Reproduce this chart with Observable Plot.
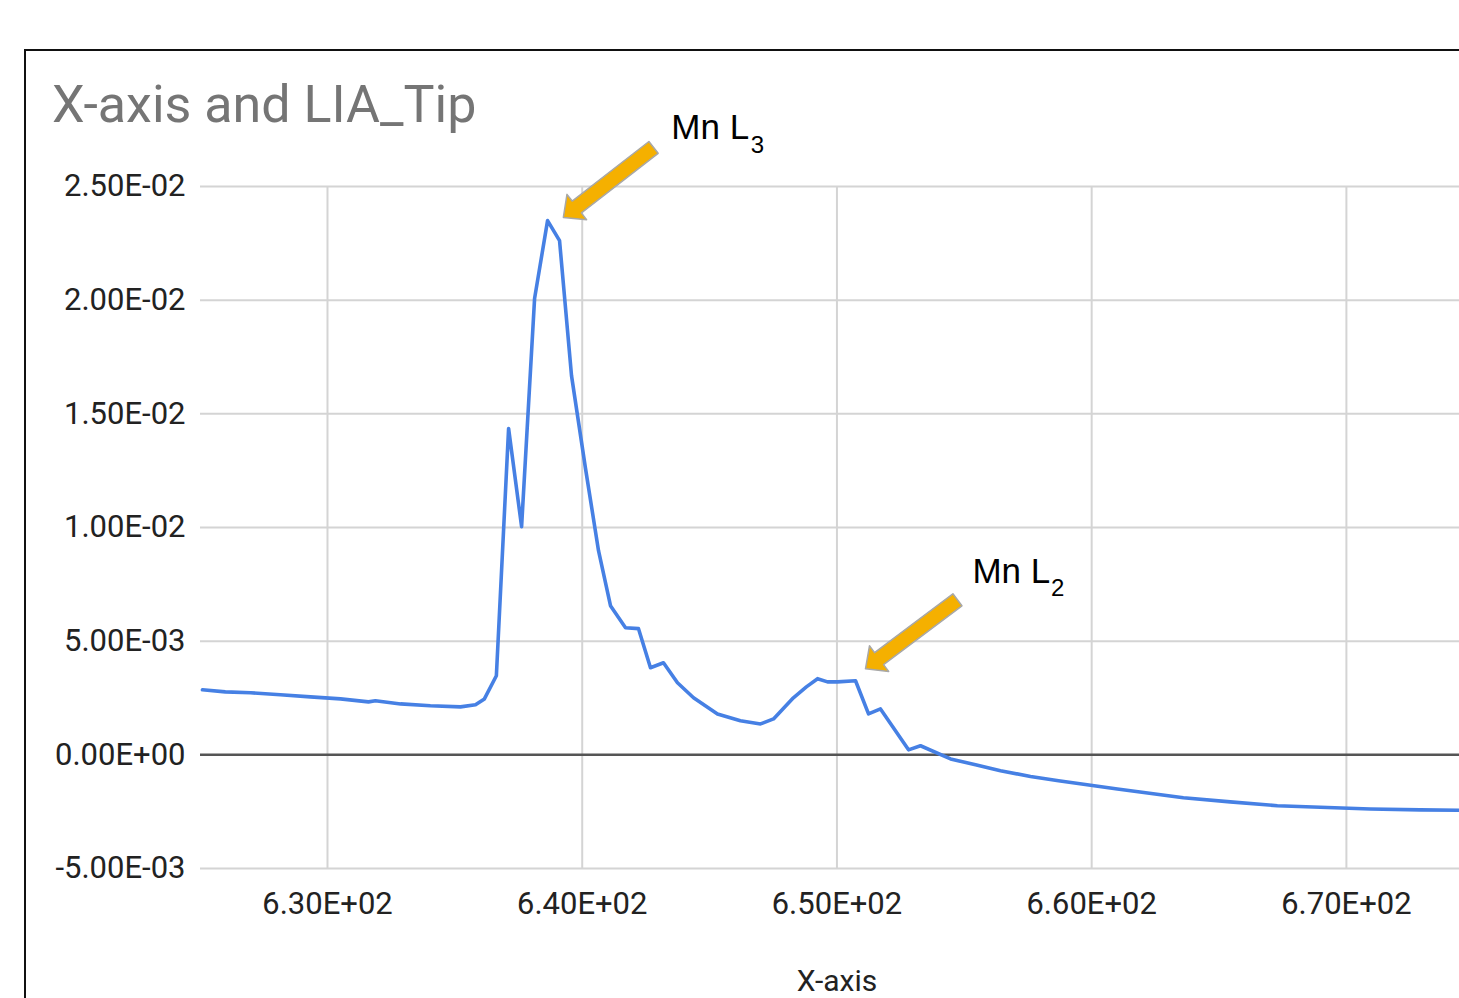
<!DOCTYPE html>
<html><head><meta charset="utf-8">
<script src="https://cdn.jsdelivr.net/npm/d3@7"></script>
<script src="https://cdn.jsdelivr.net/npm/@observablehq/plot@0.6"></script>
<style>
html,body{margin:0;padding:0;background:#fff;overflow:hidden;}
#page{position:relative;width:1459px;height:998px;overflow:hidden;background:#fff;}
#frame{position:absolute;left:24px;top:49px;width:1500px;height:1000px;border:2px solid #111;box-sizing:border-box;}
#title{position:absolute;left:52px;top:79px;font-family:Roboto;font-size:52px;line-height:52px;color:#757575;white-space:nowrap;}
#chart{position:absolute;left:0;top:150px;}
</style></head><body>
<div id="page"><div id="frame"></div><div id="title">X-axis and LIA_Tip</div><div id="chart"></div></div>
<script>
// X-axis (eV)
const energy = [625.09, 625.99, 626.98, 628.15, 629.33, 630.51, 631.61, 631.88, 632.87, 634.04,
  635.22, 635.81, 636.16, 636.63, 637.11, 637.62, 638.13, 638.64, 639.11, 639.58,
  640.13, 640.64, 641.11, 641.70, 642.21, 642.68, 643.19, 643.74, 644.37, 645.31,
  646.21, 647.00, 647.51, 648.29, 648.80, 649.24, 649.63, 650.02, 650.73, 651.24,
  651.71, 652.81, 653.28, 654.46, 655.44, 656.42, 657.60, 658.70, 661.01, 663.60,
  665.44, 667.29, 670.94, 672.90, 674.44];
// LIA_Tip (x 1e-3)
const liaTip = [2.86, 2.77, 2.73, 2.64, 2.55, 2.46, 2.33, 2.38, 2.24, 2.16,
  2.11, 2.20, 2.46, 3.48, 14.35, 10.04, 20.07, 23.50, 22.62, 16.68,
  12.59, 8.98, 6.56, 5.59, 5.55, 3.83, 4.05, 3.17, 2.51, 1.80,
  1.50, 1.36, 1.58, 2.51, 2.99, 3.35, 3.21, 3.21, 3.26, 1.80,
  2.02, 0.22, 0.40, -0.18, -0.44, -0.70, -0.95, -1.14, -1.50, -1.89,
  -2.07, -2.24, -2.38, -2.42, -2.44].map(v => v * 1e-3);

const xTicks = [630, 640, 650, 660, 670];
const yTicks = [-0.005, 0, 0.005, 0.01, 0.015, 0.02, 0.025];
const xDomain = [625.015, 674.44];
const yDomain = [-0.005, 0.025];

// annotations: label, subscript, arrow tip and tail (data units)
const annLabels = ["Mn L", "Mn L"];
const annSubs = ["3", "2"];
const annLabelX = [643.50, 655.32];
const annLabelY = [0.02709, 0.00757];
const annSubX = [646.62, 658.40];
const annSubY = [0.02649, 0.00700];
const arrowTipX = [639.26, 651.12];
const arrowTipY = [0.02364, 0.003785];
const arrowTailX = [642.80, 654.73];
const arrowTailY = [0.02672, 0.00682];

const fmtE = v => {
  const [m, e] = v.toExponential(2).split("e");
  const s = e[0] === "-" ? "-" : "+";
  return `${m}E${s}${e.replace(/^[+-]/, "").padStart(2, "0")}`;
};

const data = energy.map((x, i) => ({x, y: liaTip[i]}));

const base = {
  width: 1459, height: 848,
  marginLeft: 200, marginRight: 0, marginTop: 36, marginBottom: 130,
  x: {domain: xDomain, axis: null},
  y: {domain: yDomain, axis: null},
  style: {background: "transparent", overflow: "visible", fontFamily: "Roboto", fontSize: "31px"}
};

const pre = Plot.plot({...base, marks: [Plot.ruleY([0])]});
const sx = pre.scale("x"), sy = pre.scale("y");
const X = d3.scaleLinear(sx.domain, sx.range);
const Y = d3.scaleLinear(sy.domain, sy.range);

const shaftW = 15, headW = 32, headL = 17;
const arrowPts = [];
arrowTipX.forEach((_, i) => {
  const tx = X(arrowTipX[i]), ty = Y(arrowTipY[i]);
  const px = X(arrowTailX[i]), py = Y(arrowTailY[i]);
  const L = Math.hypot(px - tx, py - ty);
  const ux = (px - tx) / L, uy = (py - ty) / L;
  const nx = -uy, ny = ux;
  const bx = tx + ux * headL, by = ty + uy * headL;
  const pts = [
    [tx, ty],
    [bx + nx * headW / 2, by + ny * headW / 2],
    [bx + nx * shaftW / 2, by + ny * shaftW / 2],
    [px + nx * shaftW / 2, py + ny * shaftW / 2],
    [px - nx * shaftW / 2, py - ny * shaftW / 2],
    [bx - nx * shaftW / 2, by - ny * shaftW / 2],
    [bx - nx * headW / 2, by - ny * headW / 2]
  ];
  pts.forEach(([a, b]) => arrowPts.push({id: i, x: X.invert(a), y: Y.invert(b)}));
});

const anns = annLabels.map((t, i) => ({t, s: annSubs[i], x: annLabelX[i], y: annLabelY[i], sx: annSubX[i], sy: annSubY[i]}));

const chart = Plot.plot({
  ...base,
  marks: [
    Plot.gridY(yTicks.filter(v => v !== 0), {stroke: "#d4d4d4", strokeOpacity: 1, strokeWidth: 2}),
    Plot.gridX(xTicks, {stroke: "#d4d4d4", strokeOpacity: 1, strokeWidth: 2}),
    Plot.ruleY([0], {stroke: "#555", strokeWidth: 2.5}),
    Plot.axisY(yTicks, {tickSize: 0, tickPadding: 15, tickFormat: fmtE, fontSize: 31, color: "#222", label: null}),
    Plot.axisX(xTicks, {tickSize: 0, tickPadding: 23, tickFormat: fmtE, fontSize: 31, color: "#222", label: null}),
    Plot.text(["X-axis"], {frameAnchor: "bottom", dx: 7, dy: 122, lineAnchor: "bottom", fontSize: 30, fill: "#222"}),
    Plot.line(data, {x: "x", y: "y", stroke: "#4680e4", strokeWidth: 3.6, strokeLinejoin: "round"}),
    Plot.line(arrowPts, {x: "x", y: "y", z: "id", curve: "linear-closed", fill: "#f5b000", stroke: "#a8a8a8", strokeWidth: 1.5}),
    Plot.text(anns, {x: "x", y: "y", text: "t", textAnchor: "start", lineAnchor: "bottom", fontSize: 35, fontFamily: "Liberation Sans", fill: "#000"}),
    Plot.text(anns, {x: "sx", y: "sy", text: "s", textAnchor: "start", lineAnchor: "bottom", fontSize: 24, fontFamily: "Liberation Sans", fill: "#000"})
  ]
});
document.getElementById("chart").appendChild(chart);
</script>
</body></html>
